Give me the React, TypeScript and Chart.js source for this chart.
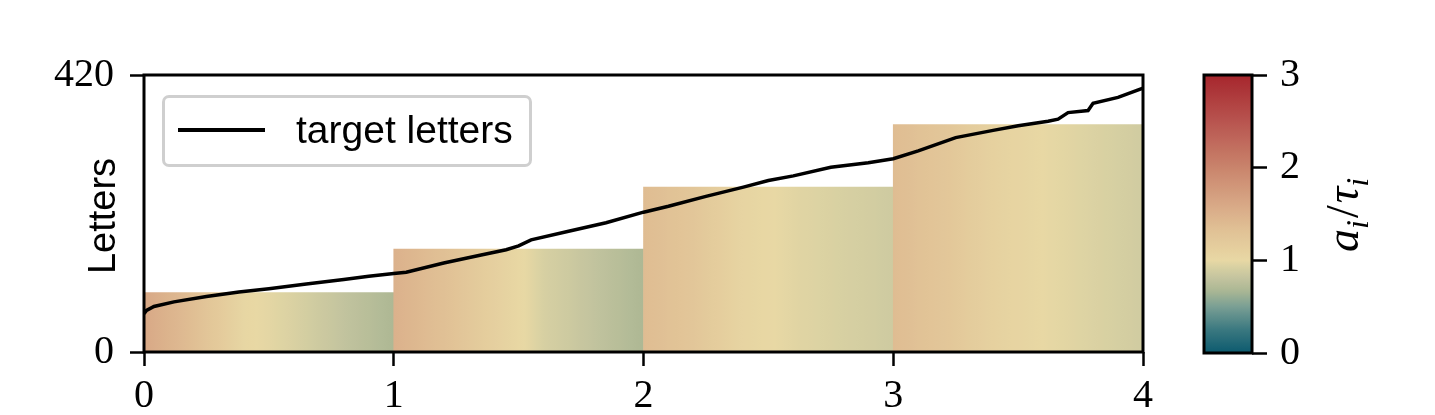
import React, { useEffect, useRef } from "react";
import { Chart, registerables } from "chart.js";

Chart.register(...registerables);

// ---------- data ----------
const xTickValues = [0, 1, 2, 3, 4];
const yTickValues = [0, 420];
const cbTickValues = [0, 1, 2, 3];

const barCenters = [0.5, 1.5, 2.5, 3.5];
const barStarts = [0, 1, 2, 3];
const barEnds = [1, 2, 3, 4];
const barHeights = [90, 156, 250, 345];

// a_i / tau_i sampled across each bar (at 0, 0.2, 0.4, 0.6, 0.8, 1.0 of its width)
const ratioBar1 = [1.6, 1.35, 1.03, 0.93, 0.8, 0.68];
const ratioBar2 = [1.5, 1.33, 1.12, 0.92, 0.8, 0.68];
const ratioBar3 = [1.38, 1.25, 1.05, 0.97, 0.92, 0.87];
const ratioBar4 = [1.38, 1.25, 1.1, 1.0, 0.94, 0.88];
const barRatios = [ratioBar1, ratioBar2, ratioBar3, ratioBar4];

const lineX = [0, 0.01, 0.04, 0.12, 0.25, 0.38, 0.5, 0.65, 0.8, 0.9, 1.0, 1.05, 1.2, 1.35, 1.45, 1.5, 1.55, 1.7, 1.85, 2.0, 2.1, 2.25, 2.4, 2.5, 2.6, 2.75, 2.9, 3.0, 3.1, 3.25, 3.4, 3.5, 3.62, 3.66, 3.7, 3.78, 3.8, 3.9, 4.0];
const lineY = [58, 63, 69, 76, 84, 91, 96, 103, 110, 115, 119, 121, 135, 147, 155, 161, 170, 183, 196, 212, 221, 236, 250, 260, 267, 280, 287, 293, 305, 325, 336, 343, 350, 353, 363, 366, 377, 386, 400];

const cbMin = 0;
const cbMax = 3;

// colormap stops
const cmapValues = [0, 0.25, 0.5, 0.68, 0.8, 0.92, 1.0, 1.35, 1.6, 2.0, 2.5, 3.0];
const cmapColors = ["#0c5a6e", "#3a7880", "#7a9f94", "#adb894", "#c2c39e", "#d7d0a2", "#e8d8a4", "#e0bf94", "#d8a886", "#c9846c", "#b8544f", "#a6262d"];

// ---------- helpers ----------
function hexToRgb(h: string) {
  const n = parseInt(h.slice(1), 16);
  return [(n >> 16) & 255, (n >> 8) & 255, n & 255];
}
function cmap(v: number): string {
  if (v <= cmapValues[0]) return cmapColors[0];
  for (let i = 1; i < cmapValues.length; i++) {
    if (v <= cmapValues[i]) {
      const t = (v - cmapValues[i - 1]) / (cmapValues[i] - cmapValues[i - 1]);
      const a = hexToRgb(cmapColors[i - 1]);
      const b = hexToRgb(cmapColors[i]);
      const c = a.map((x, k) => Math.round(x + (b[k] - x) * t));
      return `rgb(${c[0]},${c[1]},${c[2]})`;
    }
  }
  return cmapColors[cmapColors.length - 1];
}
function sampleRatio(arr: number[], f: number) {
  const p = f * (arr.length - 1);
  const i = Math.min(Math.floor(p), arr.length - 2);
  const t = p - i;
  return arr[i] + (arr[i + 1] - arr[i]) * t;
}

const framePlugin = {
  id: "frame",
  afterDraw(chart: any) {
    const { ctx, chartArea } = chart;
    if (!chartArea) return;
    ctx.save();
    ctx.strokeStyle = "#000";
    ctx.lineWidth = 3;
    ctx.strokeRect(chartArea.left, chartArea.top, chartArea.right - chartArea.left, chartArea.bottom - chartArea.top);
    ctx.restore();
  },
};

const tickFont = { family: "'Liberation Serif', serif", size: 40 };
const gridOpts = { display: true, offset: false, drawOnChartArea: false, drawTicks: true, tickLength: 14, tickWidth: 2.5, tickColor: "#000" };

export default function App() {
  const mainRef = useRef<HTMLCanvasElement>(null);
  const cbRef = useRef<HTMLCanvasElement>(null);

  useEffect(() => {
    const main = new Chart(mainRef.current!, {
      type: "bar",
      data: {
        datasets: [
          {
            type: "line",
            label: "target letters",
            data: lineX.map((x, i) => ({ x, y: lineY[i] })),
            borderColor: "#000",
            borderWidth: 3.5,
            pointRadius: 0,
            tension: 0,
            order: 0,
          } as any,
          {
            type: "bar",
            label: "bars",
            data: barCenters.map((x, i) => ({ x, y: barHeights[i] })),
            barPercentage: 1,
            categoryPercentage: 1,
            borderWidth: 0,
            order: 1,
            backgroundColor: (ctx: any) => {
              const chart = ctx.chart;
              if (ctx.type !== "data" || !chart.chartArea) return "#e8d8a4";
              const i = ctx.dataIndex;
              const xs = chart.scales.x;
              const x0 = xs.getPixelForValue(barStarts[i]);
              const x1 = xs.getPixelForValue(barEnds[i]);
              const g = chart.ctx.createLinearGradient(x0, 0, x1, 0);
              const N = 40;
              for (let k = 0; k <= N; k++) {
                const f = k / N;
                g.addColorStop(f, cmap(sampleRatio(barRatios[i], f)));
              }
              return g;
            },
          } as any,
        ],
      },
      options: {
        responsive: false,
        animation: false,
        devicePixelRatio: 1,
        layout: { padding: { top: 75, right: 42, bottom: 0, left: 0 } },
        plugins: { legend: { display: false }, tooltip: { enabled: false } },
        scales: {
          x: {
            type: "linear",
            min: 0,
            max: 4,
            offset: false,
            afterBuildTicks: (s: any) => {
              s.ticks = xTickValues.map((v) => ({ value: v }));
            },
            afterFit: (s: any) => {
              s.height = 63;
            },
            ticks: { font: tickFont, color: "#000", padding: 6, maxRotation: 0, autoSkip: false },
            grid: gridOpts,
            border: { display: false },
          },
          y: {
            type: "linear",
            min: 0,
            max: 420,
            afterBuildTicks: (s: any) => {
              s.ticks = yTickValues.map((v) => ({ value: v }));
            },
            afterFit: (s: any) => {
              s.width = 144;
            },
            ticks: { font: tickFont, color: "#000", padding: 16, autoSkip: false },
            grid: gridOpts,
            border: { display: false },
          },
        },
      },
      plugins: [framePlugin],
    } as any);

    const cb = new Chart(cbRef.current!, {
      type: "bar",
      data: {
        labels: ["cb"],
        datasets: [
          {
            data: [[cbMin, cbMax]],
            barPercentage: 1,
            categoryPercentage: 1,
            borderWidth: 0,
            backgroundColor: (ctx: any) => {
              const chart = ctx.chart;
              if (!chart.chartArea) return "#e8d8a4";
              const ys = chart.scales.y;
              const y0 = ys.getPixelForValue(cbMin);
              const y1 = ys.getPixelForValue(cbMax);
              const g = chart.ctx.createLinearGradient(0, y0, 0, y1);
              const N = 60;
              for (let k = 0; k <= N; k++) {
                g.addColorStop(k / N, cmap(cbMin + (cbMax - cbMin) * (k / N)));
              }
              return g;
            },
          } as any,
        ],
      },
      options: {
        responsive: false,
        animation: false,
        devicePixelRatio: 1,
        layout: { padding: { top: 75, right: 0, bottom: 62, left: 19 } },
        plugins: { legend: { display: false }, tooltip: { enabled: false } },
        scales: {
          x: { display: false, offset: true },
          y: {
            position: "right",
            min: cbMin,
            max: cbMax,
            afterBuildTicks: (s: any) => {
              s.ticks = cbTickValues.map((v) => ({ value: v }));
            },
            afterFit: (s: any) => {
              s.width = 183;
            },
            ticks: { font: tickFont, color: "#000", padding: 13, autoSkip: false },
            grid: { ...gridOpts, tickLength: 15 },
            border: { display: false },
          },
        },
      },
      plugins: [framePlugin],
    } as any);

    return () => {
      main.destroy();
      cb.destroy();
    };
  }, []);

  return (
    <div style={{ position: "fixed", left: 0, top: 0, width: 1435, height: 415, background: "#fff", overflow: "hidden" }}>
      <div style={{ position: "absolute", left: 0, top: 0, width: 1185, height: 415 }}>
        <canvas ref={mainRef} width={1185} height={415} />
      </div>
      <div style={{ position: "absolute", left: 1185, top: 0, width: 250, height: 415 }}>
        <canvas ref={cbRef} width={250} height={415} />
      </div>
      {/* legend */}
      <div
        style={{
          position: "absolute",
          left: 162,
          top: 95,
          width: 370,
          height: 72,
          boxSizing: "border-box",
          border: "3px solid #cfcfcf",
          borderRadius: 7,
          background: "rgba(255,255,255,0.8)",
        }}
      />
      <div style={{ position: "absolute", left: 178, top: 128, width: 87, height: 4, background: "#000" }} />
      <div
        style={{
          position: "absolute",
          left: 296,
          top: 110,
          fontFamily: "'Liberation Sans', sans-serif",
          fontSize: 39,
          lineHeight: 1,
          whiteSpace: "nowrap",
          color: "#000",
        }}
      >
        target letters
      </div>
      {/* y-axis label */}
      <div
        style={{
          position: "absolute",
          left: 102 - 100,
          top: 216 - 19,
          width: 200,
          height: 38,
          fontFamily: "'Liberation Sans', sans-serif",
          fontSize: 38,
          lineHeight: 1,
          textAlign: "center",
          whiteSpace: "nowrap",
          transform: "rotate(-90deg)",
          color: "#000",
        }}
      >
        Letters
      </div>
      {/* colorbar label */}
      <div
        style={{
          position: "absolute",
          left: 1343 - 100,
          top: 215 - 23,
          width: 200,
          height: 46,
          fontFamily: "'Liberation Serif', serif",
          fontSize: 46,
          lineHeight: 1,
          textAlign: "center",
          whiteSpace: "nowrap",
          transform: "rotate(-90deg)",
          color: "#000",
        }}
      >
        <i>a</i>
        <sub style={{ fontSize: 32, fontStyle: "italic", lineHeight: 0 }}>i</sub>
        <span style={{ margin: "0 2px" }}>/</span>
        <i>τ</i>
        <sub style={{ fontSize: 32, fontStyle: "italic", lineHeight: 0 }}>i</sub>
      </div>
    </div>
  );
}
